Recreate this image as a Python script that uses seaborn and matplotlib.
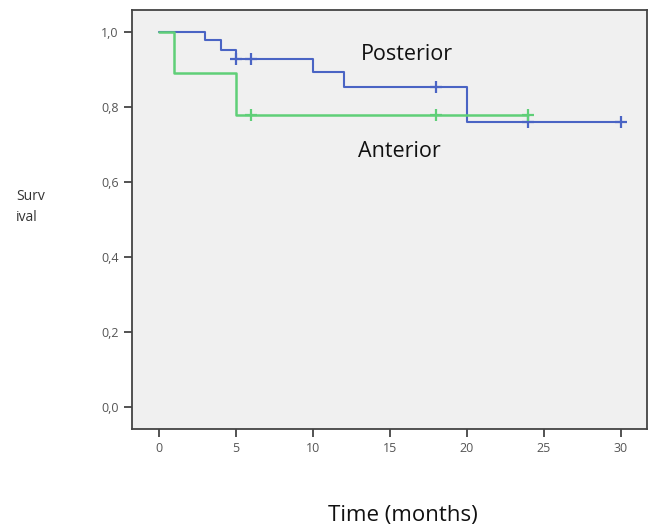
import numpy as np
import pandas as pd
import matplotlib
matplotlib.use("Agg")
import matplotlib.pyplot as plt
from matplotlib.ticker import FuncFormatter
import seaborn as sns

# --- Kaplan-Meier step data ---
post_time = [0, 3, 4, 5, 10, 12, 20, 30]
post_surv = [1.0, 0.979, 0.952, 0.927, 0.892, 0.853, 0.761, 0.761]
post_cens_time = [5, 6, 18, 24, 30]
post_cens_surv = [0.927, 0.927, 0.853, 0.761, 0.761]

ant_time = [0, 1, 5, 24]
ant_surv = [1.0, 0.889, 0.778, 0.778]
ant_cens_time = [6, 18, 24]
ant_cens_surv = [0.778, 0.778, 0.778]

x_ticks = [0, 5, 10, 15, 20, 25, 30]
y_ticks = [0.0, 0.2, 0.4, 0.6, 0.8, 1.0]

BLUE = "#4a64c4"
GREEN = "#5fcf78"

sns.set_style("ticks")
plt.rcParams["font.family"] = ["Open Sans", "DejaVu Sans"]

df_post = pd.DataFrame({"time": post_time, "surv": post_surv})
df_ant = pd.DataFrame({"time": ant_time, "surv": ant_surv})

fig = plt.figure(figsize=(6.58, 5.3), dpi=100)
ax = fig.add_axes([132 / 658, 1 - 429 / 530, (647 - 132) / 658, (429 - 10) / 530])
ax.set_facecolor("#f0f0f0")

sns.lineplot(data=df_post, x="time", y="surv", drawstyle="steps-post",
             color=BLUE, lw=1.5, ax=ax)
sns.scatterplot(x=post_cens_time, y=post_cens_surv, marker="+", s=80,
                color=BLUE, linewidth=1.6, ax=ax)
sns.lineplot(data=df_ant, x="time", y="surv", drawstyle="steps-post",
             color=GREEN, lw=1.8, ax=ax)
sns.scatterplot(x=ant_cens_time, y=ant_cens_surv, marker="+", s=80,
                color=GREEN, linewidth=1.6, ax=ax)

ax.set_xlim(-1.75, 31.7)
ax.set_ylim(-0.058, 1.058)
ax.set_xticks(x_ticks)
ax.set_yticks(y_ticks)
ax.yaxis.set_major_formatter(FuncFormatter(lambda v, p: f"{v:.1f}".replace(".", ",")))
ax.tick_params(direction="out", length=6, width=1.3, colors="#444444",
               labelsize=9, labelcolor="#555555")
ax.set_xlabel("")
ax.set_ylabel("")
for sp in ax.spines.values():
    sp.set_visible(True)
    sp.set_color("#444444")
    sp.set_linewidth(1.3)

ax.text(16.1, 0.94, "Posterior", fontsize=15.5, ha="center", va="center", color="#111111")
ax.text(15.6, 0.68, "Anterior", fontsize=15.5, ha="center", va="center", color="#111111")

fig.text(16 / 658, 1 - 207 / 530, "Surv\nival", fontsize=10, ha="left", va="center",
         color="#333333", linespacing=1.5)
fig.text(403 / 658, 1 - 516 / 530, "Time (months)", fontsize=16, ha="center",
         va="center", color="#111111")

fig.savefig("out.png", dpi=100)
